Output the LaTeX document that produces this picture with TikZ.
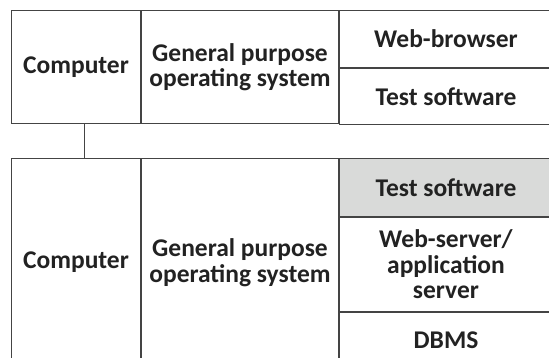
\documentclass[tikz,border=0pt]{standalone}
\usepackage{fontspec}
\setmainfont{Carlito}
\usepackage{xcolor}
\usepackage{tikz}
\usetikzlibrary{positioning}
\definecolor{Ink}{HTML}{222222}
\definecolor{Line}{HTML}{444444}
\definecolor{Shade}{HTML}{D9DAD9}
\tikzset{
  cell/.style={draw=Line, line width=1pt, align=center, text=Ink, inner sep=0pt, anchor=north west,
    font=\bfseries\fontsize{25.5}{25.5}\selectfont},
  shaded/.style={cell, fill=Shade},
  link/.style={draw=Line, line width=1pt}
}

\begin{document}
\begin{tikzpicture}[x=1pt, y=-1pt, node distance=0pt]
  \useasboundingbox (0,0) rectangle (549,358);
  \clip (0,0) rectangle (549,358);
  % client machine
  \node[cell, minimum width=129pt, minimum height=113pt] (comp1) at (11,10) {Computer};
  \node[cell, minimum width=197pt, minimum height=113pt, right=of comp1] (os1) {General purpose\\operating system};
  \node[cell, minimum width=213pt, minimum height=57pt] (browser) at (os1.north east) {Web-browser};
  \node[cell, minimum width=213pt, minimum height=56pt, below=of browser] (test1) {Test software};
  % server machine
  \node[cell, minimum width=129pt, minimum height=208pt] (comp2) at (11,158) {Computer};
  \node[cell, minimum width=197pt, minimum height=208pt, right=of comp2] (os2) {General purpose\\operating system};
  \node[shaded, minimum width=213pt, minimum height=58pt] (test2) at (os2.north east) {Test software};
  \node[cell, minimum width=213pt, minimum height=94pt, below=of test2] (websrv) {Web-server/\\application\\server};
  \node[cell, minimum width=213pt, minimum height=56pt, below=of websrv] (dbms) {DBMS};
  \draw[link] ([xshift=73pt]comp1.south west) -- ([xshift=73pt]comp2.north west);
\end{tikzpicture}
\end{document}
